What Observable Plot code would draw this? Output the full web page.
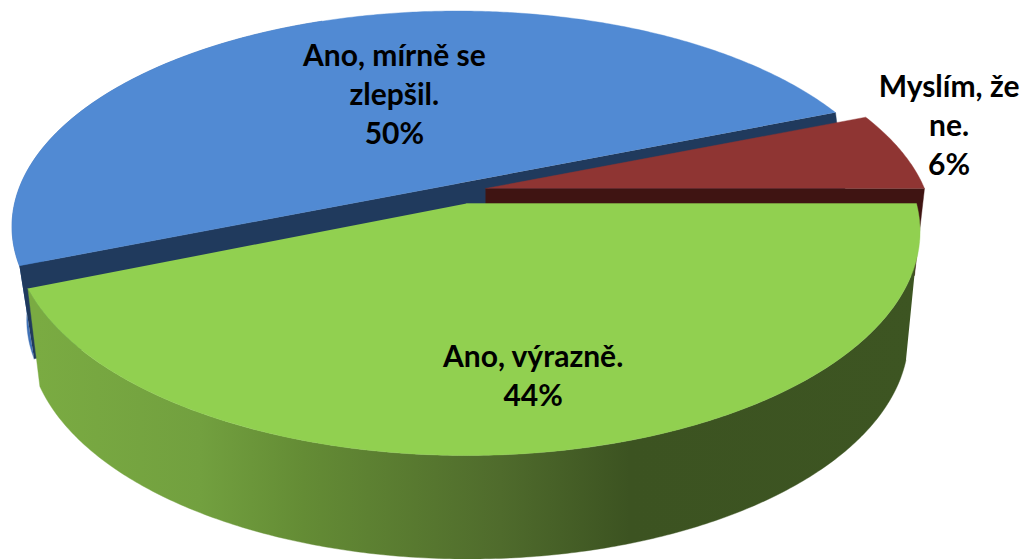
<!DOCTYPE html>
<html>
<head>
<meta charset="utf-8">
<script src="https://cdn.jsdelivr.net/npm/d3@7"></script>
<script src="https://cdn.jsdelivr.net/npm/@observablehq/plot@0.6"></script>
<style>
html,body{margin:0;padding:0;background:#fff;}
svg{display:block;}
</style>
</head>
<body>
<div id="chart"></div>
<script>
// Data
const categories = ["Ano, výrazně.", "Ano, mírně se\nzlepšil.", "Myslím, že\nne."];
const shares = [44, 50, 6];

// Appearance of each slice
const topColors  = ["#91d050", "#518ad3", "#8f3533"];
const cutColors  = ["#000000", "#203a5d", "#3f1412"];
const wallColors = ["url(#greenWall)", "#3f71b5", "#3f1412"];

// Perspective disc of each slice: apex, radii and foreshortening
const topDisc = [
  {ax: 466, ay: 203, R: 450, S: 220.5, k: 0.125},
  {ax: 457, ay: 183, R: 436.5, S: 207, k: 0.2},
  {ax: 485, ay: 188, R: 439, S: 208, k: 0.2}
];
const bottomDisc = [
  {ax: 468, ay: 301, R: 434.7, S: 217.6, k: 0.155},
  {ax: 470, ay: 276, R: 434.8, S: 207, k: 0.2},
  {ax: 485, ay: 275, R: 429, S: 208, k: 0.2}
];
const labelPlace = [
  {r: 0.73, dx: -1, dy: -3},
  {r: 0.55, dx: 17, dy: 5},
  {r: 1.12, dx: 0, dy: -23}
];

const TAU = 2 * Math.PI;
const arcs = d3.pie().sort(null).startAngle(TAU / 4).endAngle(TAU / 4 + TAU)(shares);

const project = (d, a, r = 1) => {
  const u = r * Math.sin(a), v = -r * Math.cos(a), w = 1 - d.k * v;
  return {x: d.ax + d.R * u / w, y: d.ay + d.S * v / w};
};
const rim = (d, a0, a1) => {
  const n = Math.max(2, Math.ceil(Math.abs(a1 - a0) / 0.01));
  return d3.range(n + 1).map((i) => project(d, a0 + (a1 - a0) * i / n));
};
const apex = (d) => ({x: d.ax, y: d.ay});
const sheet = (points, fill) => Plot.line(points, {x: "x", y: "y", fill, stroke: fill, strokeWidth: 0.4, curve: "linear"});

const gradient = () => {
  const defs = d3.create("svg:defs");
  const g = defs.append("linearGradient").attr("id", "greenWall")
    .attr("gradientUnits", "userSpaceOnUse")
    .attr("x1", 37).attr("x2", 921).attr("y1", 0).attr("y2", 0);
  [[0, "#7aab42"], [0.184, "#72a03f"], [0.3, "#648c35"], [0.524, "#4f6b2c"], [0.67, "#3c5321"], [1, "#3d5522"]]
    .forEach(([o, c]) => g.append("stop").attr("offset", o).attr("stop-color", c));
  return defs.node();
};

const [green, blue, red] = arcs;
const blueFrontEnd = blue.startAngle + TAU * 0.25;
const greenWallStart = green.startAngle + TAU * 15 / 360;

const marks = [
  gradient,
  // blue slice: outer wall, cut face, top
  sheet([...rim(topDisc[1], blue.startAngle, blueFrontEnd), ...rim(bottomDisc[1], blueFrontEnd, blue.startAngle)], wallColors[1]),
  sheet([project(topDisc[1], blue.startAngle), project(topDisc[1], blue.endAngle), project(bottomDisc[1], blue.endAngle), project(bottomDisc[1], blue.startAngle)], cutColors[1]),
  sheet([apex(topDisc[1]), ...rim(topDisc[1], blue.startAngle, blue.endAngle)], topColors[1]),
  // red slice: cut face, top
  sheet([apex(topDisc[2]), project(topDisc[2], red.endAngle), project(bottomDisc[2], red.endAngle), apex(bottomDisc[2])], wallColors[2]),
  sheet([apex(topDisc[2]), ...rim(topDisc[2], red.startAngle, red.endAngle)], topColors[2]),
  // green slice: outer wall, top
  sheet([...rim(topDisc[0], greenWallStart, green.endAngle), ...rim(bottomDisc[0], green.endAngle, greenWallStart)], wallColors[0]),
  sheet([apex(topDisc[0]), ...rim(topDisc[0], green.startAngle, green.endAngle)], topColors[0]),
  // labels
  Plot.text(arcs.map((s, i) => {
    const p = project(topDisc[i], (s.startAngle + s.endAngle) / 2, labelPlace[i].r);
    return {x: p.x + labelPlace[i].dx, y: p.y + labelPlace[i].dy, text: `${categories[i]}\n${shares[i]}%`};
  }), {
    x: "x", y: "y", text: "text",
    fill: "#000", fontFamily: "Lato", fontWeight: 700, fontSize: 30,
    lineHeight: 1.31, textAnchor: "middle", lineAnchor: "middle"
  })
];

const plot = Plot.plot({
  width: 1030, height: 559,
  margin: 0,
  style: {background: "#fff"},
  x: {domain: [0, 1030], range: [0, 1030], axis: null},
  y: {domain: [0, 559], range: [0, 559], axis: null},
  marks
});
document.getElementById("chart").append(plot);
</script>
</body>
</html>
